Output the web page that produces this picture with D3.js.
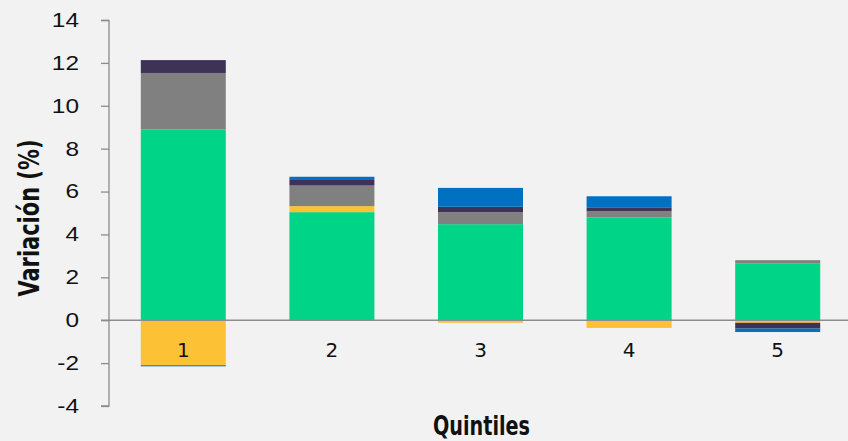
<!DOCTYPE html>
<html>
<head>
<meta charset="utf-8">
<script src="https://cdn.jsdelivr.net/npm/d3@7"></script>
<style>
  html, body { margin: 0; padding: 0; background: #F2F2F2; }
  svg { display: block; }
</style>
</head>
<body>
<svg id="chart" width="848" height="441"></svg>
<script>
// ---- Data ----
const categories = ["1", "2", "3", "4", "5"];
const seriesGreen  = [8.89, 5.04, 4.48, 4.79, 2.64];
const seriesYellow = [-2.10, 0.28, -0.12, -0.36, -0.12];
const seriesGrey   = [2.64, 0.96, 0.56, 0.29, 0.16];
const seriesDark   = [0.60, 0.26, 0.25, 0.16, -0.27];
const seriesBlue   = [-0.05, 0.15, 0.88, 0.54, -0.16];
const yTicks = [-4, -2, 0, 2, 4, 6, 8, 10, 12, 14];
const yTitle = "Variación (%)";
const xTitle = "Quintiles";

const seriesKeys = ["green", "yellow", "grey", "dark", "blue"];
const seriesData = { green: seriesGreen, yellow: seriesYellow, grey: seriesGrey, dark: seriesDark, blue: seriesBlue };
const colors = { green: "#00D486", yellow: "#FCC134", grey: "#808080", dark: "#3E3257", blue: "#0070C0" };

const table = categories.map((c, i) => {
  const row = { cat: c };
  seriesKeys.forEach(k => row[k] = seriesData[k][i]);
  return row;
});

const svg = d3.select("#chart");
const x = d3.scaleBand().domain(categories).range([109, 852]).paddingInner(0.428).paddingOuter(0.214);
const y = d3.scaleLinear().domain([-4, 14]).range([406, 20]);

const stack = d3.stack().keys(seriesKeys).offset(d3.stackOffsetDiverging);
const layers = stack(table);

svg.append("g").selectAll("g")
  .data(layers).join("g")
  .attr("fill", d => colors[d.key])
  .selectAll("rect")
  .data(d => d).join("rect")
  .attr("x", d => x(d.data.cat))
  .attr("width", x.bandwidth())
  .attr("y", d => y(Math.max(d[0], d[1])))
  .attr("height", d => Math.abs(y(d[0]) - y(d[1])));

// Y axis
const sx = 1.22;
const yAxis = d3.axisLeft(y).tickValues(yTicks).tickSize(8).tickPadding(22).tickFormat(d => String(d));
const gy = svg.append("g").attr("transform", "translate(109,0)").call(yAxis);
gy.select(".domain").attr("stroke", "#8C8C8C").attr("stroke-width", 1.3).attr("d", "M-8,20.5H0V406H-8");
gy.selectAll(".tick line").attr("stroke", "#8C8C8C").attr("stroke-width", 1.3);
gy.selectAll(".tick text")
  .attr("font-family", "'Liberation Sans', Arial, sans-serif")
  .attr("font-size", 20).attr("fill", "#111")
  .attr("x", -30 / sx)
  .attr("transform", `scale(${sx},1)`);

// Zero line
svg.append("line")
  .attr("x1", 101).attr("x2", 848)
  .attr("y1", y(0)).attr("y2", y(0))
  .attr("stroke", "#8C8C8C").attr("stroke-width", 1.5);

// Category labels
svg.append("g").selectAll("text")
  .data(categories).join("text")
  .attr("x", d => x(d) + x.bandwidth() / 2)
  .attr("y", 357)
  .attr("text-anchor", "middle")
  .attr("font-family", "'DejaVu Sans', sans-serif")
  .attr("font-size", 20).attr("fill", "#111")
  .text(d => d);

// Axis titles
svg.append("text")
  .attr("transform", "translate(39,218) rotate(-90)")
  .attr("text-anchor", "middle")
  .attr("font-family", "'Liberation Sans Narrow', 'DejaVu Sans Condensed', sans-serif")
  .attr("font-weight", "bold")
  .attr("font-size", 28).attr("fill", "#111")
  .attr("textLength", 157).attr("lengthAdjust", "spacingAndGlyphs")
  .text(yTitle);

svg.append("text")
  .attr("x", 481.5).attr("y", 435)
  .attr("text-anchor", "middle")
  .attr("font-family", "'Liberation Sans Narrow', 'DejaVu Sans Condensed', sans-serif")
  .attr("font-weight", "bold")
  .attr("font-size", 27).attr("fill", "#111")
  .attr("textLength", 97).attr("lengthAdjust", "spacingAndGlyphs")
  .text(xTitle);
</script>
</body>
</html>
